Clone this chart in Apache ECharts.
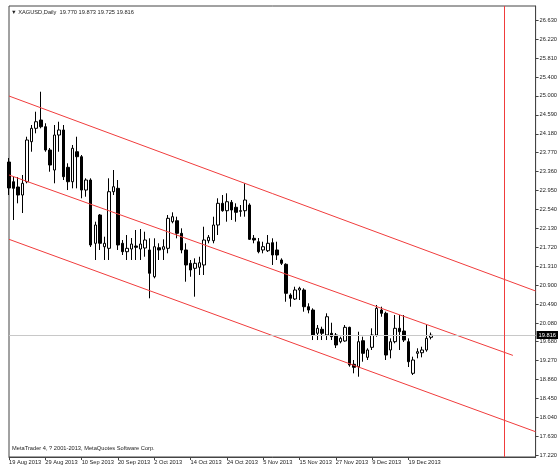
<!DOCTYPE html>
<html>
<head>
<meta charset="utf-8">
<script src="https://cdn.jsdelivr.net/npm/echarts@6/dist/echarts.min.js"></script>
<style>
  html, body { margin: 0; padding: 0; background: #fff; }
  #chart { width: 560px; height: 467px; }
</style>
</head>
<body>
<div id="chart"></div>
<script>
// XAGUSD daily bars, 19 Aug 2013 .. 27 Dec 2013
const opens = [
  23.568, 23.141, 23.027, 22.853, 23.141, 24.008, 24.298, 24.478, 24.333, 23.828,
  23.395, 24.153, 24.262, 23.453, 23.141, 23.791, 23.683, 22.961, 23.178, 21.807,
  22.420, 21.733, 21.698, 22.925, 22.998, 21.807, 21.625, 21.683, 21.748, 21.683,
  21.705, 21.662, 21.083, 21.711, 21.677, 21.698, 22.275, 22.296, 22.023, 21.662,
  21.373, 21.265, 21.287, 21.337, 21.863, 21.863, 22.203, 22.673, 22.513, 22.695,
  22.587, 22.513, 22.513, 22.636, 21.915, 21.841, 21.662, 21.646, 21.820, 21.662,
  21.445, 21.352, 20.686, 20.600, 20.795, 20.795, 20.433, 20.361, 19.857, 19.943,
  19.820, 19.857, 19.820, 19.675, 19.690, 19.986, 19.185, 19.133, 19.696, 19.336,
  19.553, 19.820, 20.361, 20.290, 19.495, 19.675, 19.965, 19.906, 19.675, 18.990,
  19.423, 19.436, 19.495, 19.770
];
const highs = [
  23.655, 23.250, 23.243, 23.287, 24.116, 24.370, 24.658, 25.091, 24.407, 23.872,
  24.370, 24.441, 24.370, 23.540, 23.937, 24.116, 23.720, 23.215, 23.215, 22.275,
  22.440, 21.950, 23.215, 23.395, 23.178, 21.878, 21.986, 21.921, 22.095, 22.116,
  22.058, 21.915, 21.915, 21.807, 21.893, 22.420, 22.478, 22.383, 22.131, 21.807,
  21.445, 21.481, 21.516, 22.166, 21.986, 22.383, 22.782, 22.853, 22.890, 22.745,
  22.673, 22.636, 23.107, 22.673, 21.986, 21.921, 21.841, 21.986, 21.915, 21.841,
  21.481, 21.373, 20.723, 20.866, 20.866, 20.832, 20.507, 20.398, 20.036, 20.000,
  20.290, 20.086, 19.863, 19.783, 20.036, 20.000, 19.278, 19.891, 19.783, 19.532,
  19.965, 20.470, 20.433, 20.325, 19.748, 20.253, 20.253, 20.253, 19.748, 19.350,
  19.532, 19.566, 20.036, 19.873
];
const lows = [
  22.853, 22.312, 22.673, 22.463, 23.107, 23.791, 24.190, 24.298, 23.791, 23.358,
  23.107, 23.791, 23.178, 22.961, 22.998, 22.998, 22.782, 22.816, 21.727, 21.445,
  21.662, 21.445, 21.445, 22.853, 21.662, 21.553, 21.445, 21.445, 21.445, 21.445,
  21.516, 20.615, 21.048, 21.445, 21.445, 21.590, 22.240, 21.915, 21.590, 20.975,
  21.083, 20.650, 21.120, 21.120, 21.807, 21.807, 21.986, 22.491, 22.275, 22.312,
  22.275, 22.383, 22.383, 21.878, 21.807, 21.590, 21.590, 21.618, 21.337, 21.445,
  21.337, 20.541, 20.433, 20.578, 20.578, 20.325, 20.290, 19.711, 19.711, 19.711,
  19.711, 19.711, 19.538, 19.640, 19.675, 19.133, 18.990, 18.916, 19.241, 19.278,
  19.495, 19.783, 20.216, 19.278, 19.315, 19.640, 19.495, 19.668, 19.126, 18.953,
  19.315, 19.336, 19.458, 19.725
];
const closes = [
  23.005, 22.998, 22.853, 23.107, 24.045, 24.298, 24.441, 24.333, 23.828, 23.503,
  24.153, 24.262, 23.250, 23.141, 23.865, 23.683, 22.961, 23.178, 21.770, 22.203,
  21.807, 21.807, 22.925, 23.033, 21.770, 21.625, 21.698, 21.791, 21.720, 21.791,
  21.878, 21.157, 21.733, 21.662, 21.733, 22.348, 22.383, 22.023, 21.662, 21.337,
  21.228, 21.373, 21.386, 21.878, 21.937, 22.203, 22.673, 22.513, 22.708, 22.528,
  22.478, 22.500, 22.745, 21.893, 21.878, 21.625, 21.733, 21.807, 21.553, 21.553,
  21.373, 20.723, 20.615, 20.795, 20.832, 20.433, 20.361, 19.820, 19.965, 19.857,
  20.216, 19.783, 19.603, 19.748, 19.986, 19.170, 19.120, 19.675, 19.423, 19.495,
  19.820, 20.398, 20.290, 19.386, 19.675, 19.965, 19.891, 19.711, 19.241, 19.278,
  19.458, 19.495, 19.748, 19.816
];

// time scale labels, one every 8 bars
const dateLabels = ['19 Aug 2013', '29 Aug 2013', '10 Sep 2013', '20 Sep 2013', '2 Oct 2013', '14 Oct 2013',
  '24 Oct 2013', '5 Nov 2013', '15 Nov 2013', '27 Nov 2013', '9 Dec 2013', '19 Dec 2013'];
const labelStep = 8;
const totalSlots = 117; // bars plus the empty space on the right

const priceTicks = [26.630, 26.220, 25.810, 25.400, 25.000, 24.590, 24.180, 23.770, 23.360, 22.950, 22.540, 22.130,
  21.720, 21.310, 20.900, 20.490, 20.080, 19.680, 19.270, 18.860, 18.450, 18.040, 17.630, 17.220];
const lastPrice = 19.816;

// channel lines: [bar index, price]
const channelTop = [[0, 24.998], [116, 20.773]];
const channelMid = [[0, 23.287], [111, 19.378]];
const channelLow = [[0, 21.893], [116, 17.724]];
const vLineBar = 109;

const FONT = 'Liberation Sans';
const FS = 5.7;
const RED = '#f03c3c';

const slots = [];
for (let i = 0; i < totalSlots; i++) slots.push(i);
const candles = opens.map((o, i) => [o, closes[i], lows[i], highs[i]]);
const showDate = (idx) => idx % labelStep === 0 && idx / labelStep < dateLabels.length;

function channelLine(data) {
    return {
        type: 'line', data: data, symbol: 'none', silent: true, z: 3,
        lineStyle: { color: RED, width: 1 }
    };
}

const chart = echarts.init(document.getElementById('chart'));
chart.setOption({
    animation: false,
    title: [
        {
            text: '\u25BC XAGUSD,Daily  19.770 19.873 19.725 19.816',
            left: 11, top: 9, padding: 0,
            textStyle: { fontSize: FS, fontWeight: 'normal', color: '#222', fontFamily: FONT }
        },
        {
            text: 'MetaTrader 4, ? 2001-2013, MetaQuotes Software Corp.',
            left: 12, top: 445, padding: 0,
            textStyle: { fontSize: FS, fontWeight: 'normal', color: '#222', fontFamily: FONT }
        }
    ],
    grid: { left: 9, right: 22, top: 6, bottom: 10, show: true, borderColor: '#444', borderWidth: 1 },
    xAxis: {
        type: 'category',
        data: slots,
        boundaryGap: false,
        axisLine: { lineStyle: { color: '#444' } },
        axisTick: { interval: showDate, length: 3, lineStyle: { color: '#444' } },
        axisLabel: {
            interval: showDate,
            formatter: (v, idx) => dateLabels[idx / labelStep],
            align: 'left', margin: 2,
            fontSize: FS, color: '#222', fontFamily: FONT
        },
        splitLine: { show: false }
    },
    yAxis: {
        type: 'value',
        position: 'right',
        min: 17.1765,
        max: 26.9485,
        scale: true,
        axisLine: { show: true, lineStyle: { color: '#444' } },
        axisTick: { show: true, customValues: priceTicks, length: 3, lineStyle: { color: '#444' } },
        axisLabel: {
            customValues: priceTicks,
            formatter: v => v.toFixed(3),
            margin: 4, fontSize: FS, color: '#222', fontFamily: FONT
        },
        splitLine: { show: false }
    },
    series: [
        {
            type: 'candlestick',
            data: candles,
            barWidth: 3,
            z: 2,
            itemStyle: { color: '#fff', color0: '#000', borderColor: '#000', borderColor0: '#000', borderWidth: 1 },
            markLine: {
                silent: true, symbol: 'none', animation: false,
                data: [
                    {
                        yAxis: lastPrice,
                        lineStyle: { color: '#c8c8c8', width: 1, type: 'solid' },
                        label: {
                            position: 'end', distance: 1,
                            formatter: lastPrice.toFixed(3),
                            backgroundColor: '#000', color: '#fff',
                            padding: [1, 2, 1, 2], fontSize: FS, fontFamily: FONT
                        }
                    },
                    {
                        xAxis: vLineBar,
                        lineStyle: { color: RED, width: 1, type: 'solid' },
                        label: { show: false }
                    }
                ]
            }
        },
        channelLine(channelTop),
        channelLine(channelMid),
        channelLine(channelLow)
    ]
});
</script>
</body>
</html>
